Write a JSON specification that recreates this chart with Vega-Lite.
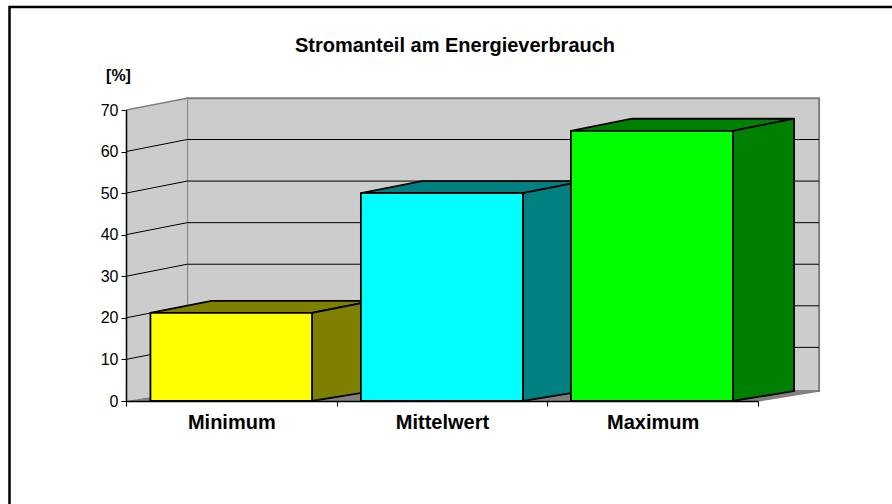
{
"$schema":"https://vega.github.io/schema/vega-lite/v6.json",
"width":632,"height":291,
"autosize":{"type":"none"},
"padding":{"left":126,"top":110,"right":134,"bottom":103},
"background":"#ffffff",
"config":{"view":{"stroke":null},"font":"Liberation Sans"},
"title":{"text":"Stromanteil am Energieverbrauch","anchor":"middle","frame":"group","font":"Liberation Sans","fontSize":20,"fontWeight":"bold","color":"#000000","dx":13,"dy":54,"offset":0},
"datasets":{
"frame":[{"id":"Rahmen","i":1,"x":-0.553,"y":-30},{"id":"Rahmen","i":2,"x":-0.553,"y":94.8},{"id":"Rahmen","i":3,"x":3.8,"y":94.8}],
"backwall":[{"x":0.29,"x2":3.29,"y":72.8,"y2":2.4}],
"sidewall":[{"x":0,"y":70,"y2":0},{"x":0.29,"y":72.8,"y2":2.4}],
"floor":[{"x":0,"y":0,"y2":0},{"x":0.29,"y":2.4,"y2":0},{"x":3,"y":2.4,"y2":0},{"x":3.29,"y":2.4,"y2":2.4}],
"edges":[
{"id":"oben","i":1,"x":0,"y":70},{"id":"oben","i":2,"x":0.29,"y":72.8},
{"id":"unten","i":1,"x":3,"y":0},{"id":"unten","i":2,"x":3.29,"y":2.4}],
"grid":[
{"id":10,"x":0,"y":10},{"id":10,"x":0.29,"y":12.9},{"id":10,"x":3.29,"y":12.9},
{"id":20,"x":0,"y":20},{"id":20,"x":0.29,"y":22.9},{"id":20,"x":3.29,"y":22.9},
{"id":30,"x":0,"y":30},{"id":30,"x":0.29,"y":32.9},{"id":30,"x":3.29,"y":32.9},
{"id":40,"x":0,"y":40},{"id":40,"x":0.29,"y":42.9},{"id":40,"x":3.29,"y":42.9},
{"id":50,"x":0,"y":50},{"id":50,"x":0.29,"y":52.9},{"id":50,"x":3.29,"y":52.9},
{"id":60,"x":0,"y":60},{"id":60,"x":0.29,"y":62.9},{"id":60,"x":3.29,"y":62.9}],
"depth":[
{"Kategorie":"Minimum","face":"Minimum oben","x":0.116,"y":21.2,"y2":21.2},
{"Kategorie":"Minimum","face":"Minimum oben","x":0.406,"y":24.1,"y2":21.2},
{"Kategorie":"Minimum","face":"Minimum oben","x":0.883,"y":24.1,"y2":21.2},
{"Kategorie":"Minimum","face":"Minimum oben","x":1.173,"y":24.1,"y2":24.1},
{"Kategorie":"Minimum","face":"Minimum Seite","x":0.883,"y":21.2,"y2":0},
{"Kategorie":"Minimum","face":"Minimum Seite","x":1.173,"y":24.1,"y2":2.4},
{"Kategorie":"Mittelwert","face":"Mittelwert oben","x":1.115,"y":50,"y2":50},
{"Kategorie":"Mittelwert","face":"Mittelwert oben","x":1.405,"y":52.9,"y2":50},
{"Kategorie":"Mittelwert","face":"Mittelwert oben","x":1.884,"y":52.9,"y2":50},
{"Kategorie":"Mittelwert","face":"Mittelwert oben","x":2.174,"y":52.9,"y2":52.9},
{"Kategorie":"Mittelwert","face":"Mittelwert Seite","x":1.884,"y":50,"y2":0},
{"Kategorie":"Mittelwert","face":"Mittelwert Seite","x":2.174,"y":52.9,"y2":2.4},
{"Kategorie":"Maximum","face":"Maximum oben","x":2.112,"y":65,"y2":65},
{"Kategorie":"Maximum","face":"Maximum oben","x":2.402,"y":67.9,"y2":65},
{"Kategorie":"Maximum","face":"Maximum oben","x":2.881,"y":67.9,"y2":65},
{"Kategorie":"Maximum","face":"Maximum oben","x":3.171,"y":67.9,"y2":67.9},
{"Kategorie":"Maximum","face":"Maximum Seite","x":2.881,"y":65,"y2":0},
{"Kategorie":"Maximum","face":"Maximum Seite","x":3.171,"y":67.9,"y2":2.4}],
"bars":[
{"Kategorie":"Minimum","x":0.116,"x2":0.883,"y":21.2,"y2":0},
{"Kategorie":"Mittelwert","x":1.115,"x2":1.884,"y":50,"y2":0},
{"Kategorie":"Maximum","x":2.112,"x2":2.881,"y":65,"y2":0}]
},
"encoding":{
"x":{"field":"x","type":"quantitative","scale":{"domain":[0,3],"nice":false,"zero":false},
 "axis":{"title":null,"values":[0,1,2,3],"grid":false,"zindex":1,"domainColor":"#000000","domainWidth":1.5,"tickColor":"#000000","tickSize":5,"tickWidth":1,"labelOffset":105.3,"labelPadding":6,"labelFont":"Liberation Sans","labelFontSize":20,"labelFontWeight":"bold","labelColor":"#000000","labelOverlap":false,"labelBound":false,"labelFlush":false,"labelAlign":"center",
 "labelExpr":"datum.value==0?'Minimum':datum.value==1?'Mittelwert':datum.value==2?'Maximum':''"}},
"y":{"field":"y","type":"quantitative","stack":null,"scale":{"domain":[0,70],"nice":false,"zero":false},
 "axis":{"title":"[%]","values":[0,10,20,30,40,50,60,70],"grid":false,"zindex":1,"domainColor":"#000000","domainWidth":1.5,"tickColor":"#000000","tickSize":5,"tickWidth":1,"labelPadding":3,"labelFont":"Liberation Sans","labelFontSize":16,"labelColor":"#000000",
 "titleFont":"Liberation Sans","titleFontSize":16,"titleFontWeight":"bold","titleColor":"#000000","titleAngle":0,"titleAlign":"center","titleBaseline":"middle","titleX":-8,"titleY":-35}}
},
"layer":[
{"data":{"name":"frame"},"mark":{"type":"line","color":"#000000","strokeWidth":2.5,"clip":false},"encoding":{"detail":{"field":"id"},"order":{"field":"i","type":"quantitative"}}},
{"data":{"name":"backwall"},"mark":{"type":"rect","fill":"#cccccc","stroke":"#808080","strokeWidth":2},"encoding":{"x2":{"field":"x2"},"y2":{"field":"y2"}}},
{"data":{"name":"sidewall"},"mark":{"type":"area","fill":"#cccccc","opacity":1},"encoding":{"y2":{"field":"y2"}}},
{"data":{"name":"floor"},"mark":{"type":"area","fill":"#808080","opacity":1},"encoding":{"y2":{"field":"y2"}}},
{"data":{"name":"edges"},"mark":{"type":"line","color":"#808080","strokeWidth":1.5},"encoding":{"detail":{"field":"id"},"order":{"field":"i","type":"quantitative"}}},
{"data":{"name":"grid"},"mark":{"type":"line","color":"#000000","strokeWidth":1},"encoding":{"detail":{"field":"id"}}},
{"data":{"name":"depth"},"mark":{"type":"area","stroke":"#000000","strokeWidth":1.8,"opacity":1},"encoding":{"y2":{"field":"y2"},"detail":{"field":"face"},"color":{"field":"Kategorie","type":"nominal","legend":null,"scale":{"domain":["Minimum","Mittelwert","Maximum"],"range":["#808000","#008080","#008000"]}}}},
{"data":{"name":"bars"},"mark":{"type":"rect","stroke":"#000000","strokeWidth":1.8},"encoding":{"x2":{"field":"x2"},"y2":{"field":"y2"},"fill":{"field":"Kategorie","type":"nominal","legend":null,"scale":{"domain":["Minimum","Mittelwert","Maximum"],"range":["#ffff00","#00ffff","#00ff00"]}}}}
]
}
